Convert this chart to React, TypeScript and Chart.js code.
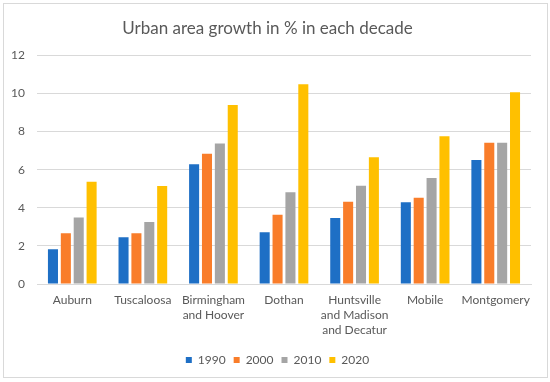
import React, { useEffect, useRef } from "react";
import { Chart, registerables } from "chart.js";

Chart.register(...registerables);

const categories: (string | string[])[] = [
  "Auburn",
  "Tuscaloosa",
  ["Birmingham", "and Hoover"],
  "Dothan",
  ["Huntsville", "and Madison", "and Decatur"],
  "Mobile",
  "Montgomery",
];

const values1990 = [1.83, 2.46, 6.28, 2.72, 3.47, 4.29, 6.51];
const values2000 = [2.67, 2.67, 6.84, 3.63, 4.32, 4.53, 7.41];
const values2010 = [3.49, 3.26, 7.38, 4.82, 5.16, 5.57, 7.41];
const values2020 = [5.37, 5.15, 9.39, 10.49, 6.66, 7.76, 10.07];

const seriesNames = ["1990", "2000", "2010", "2020"];
const seriesColors = ["#1E6FC5", "#F97D2A", "#A5A5A5", "#FFC000"];

const titleText = "Urban area growth in % in each decade";
const yMin = 0;
const yMax = 12;
const yStep = 2;

const FONT = "Lato, 'Open Sans', sans-serif";
const TEXT = "#595959";

const legendShift = {
  id: "legendShift",
  afterLayout(chart: any) {
    if (chart.legend) {
      chart.legend.left += 10;
      chart.legend.right += 10;
    }
  },
};

export default function App() {
  const ref = useRef<HTMLCanvasElement | null>(null);

  useEffect(() => {
    if (!ref.current) return;
    const all = [values1990, values2000, values2010, values2020];
    const chart = new Chart(ref.current, {
      type: "bar",
      data: {
        labels: categories as any,
        datasets: all.map((d, i) => ({
          label: seriesNames[i],
          data: d,
          backgroundColor: seriesColors[i],
          borderWidth: 0,
          categoryPercentage: 0.73,
          barPercentage: 0.78,
        })),
      },
      plugins: [legendShift],
      options: {
        animation: false,
        responsive: false,
        maintainAspectRatio: false,
        layout: { padding: { left: 0, right: 16, top: 0, bottom: 1 } },
        plugins: {
          title: {
            display: true,
            text: titleText,
            color: TEXT,
            font: { family: FONT, size: 17, weight: "normal" },
            padding: { top: 14, bottom: 17 },
          },
          legend: {
            display: true,
            position: "bottom",
            labels: {
              color: TEXT,
              font: { family: FONT, size: 12 },
              boxWidth: 6,
              boxHeight: 6,
              padding: 8,
            },
          },
          tooltip: { enabled: false },
        },
        scales: {
          x: {
            grid: { display: false },
            border: { display: true, color: "#D9D9D9" },
            ticks: {
              color: TEXT,
              font: { family: FONT, size: 12, lineHeight: 1.25 },
              maxRotation: 0,
              autoSkip: false,
              padding: 1,
            },
            afterFit: (scale: any) => {
              scale.height += 7;
            },
          },
          y: {
            min: yMin,
            max: yMax,
            grid: { color: "#D9D9D9", drawTicks: false },
            border: { display: false },
            ticks: {
              stepSize: yStep,
              color: TEXT,
              font: { family: FONT, size: 12 },
              padding: 12,
            },
            afterFit: (scale: any) => {
              scale.width = 33;
            },
          },
        },
      },
    });
    return () => chart.destroy();
  }, []);

  return (
    <div style={{ position: "fixed", left: 0, top: 0, width: 550, height: 382, background: "#fff" }}>
      <div
        style={{
          position: "absolute",
          left: 3,
          top: 3,
          width: 543,
          height: 373,
          border: "1px solid #D9D9D9",
        }}
      >
        <canvas ref={ref} width={543} height={373} style={{ display: "block" }} />
      </div>
    </div>
  );
}
